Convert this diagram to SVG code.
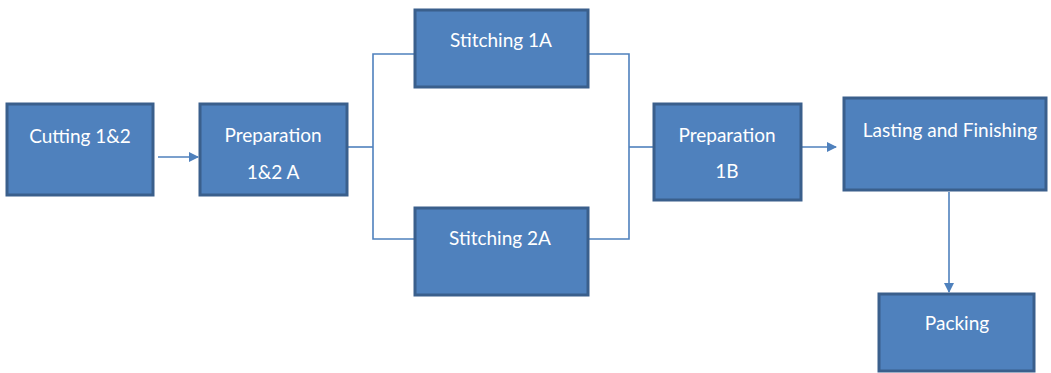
<svg xmlns="http://www.w3.org/2000/svg" width="1051" height="373" viewBox="0 0 1051 373">
<defs>
<style>
.box{fill:#4F81BD;stroke:#3A5F8C;stroke-width:3}
.lbl{fill:#FFFFFF;font-family:Lato,"Open Sans",sans-serif;font-size:19px;text-anchor:middle}
.con{fill:none;stroke:#4F81BD;stroke-width:1.6}
</style>
<marker id="arr" viewBox="0 0 10 10" refX="9" refY="5" markerWidth="10" markerHeight="10" markerUnits="userSpaceOnUse" orient="auto">
<path d="M0,0 L10,5 L0,10 Z" fill="#4F81BD"/>
</marker>
</defs>
<rect width="1051" height="373" fill="#FFFFFF"/>
<g id="connectors">
<line class="con" x1="158" y1="157" x2="198" y2="157" marker-end="url(#arr)"/>
<polyline class="con" points="347,147 373,147"/>
<polyline class="con" points="414,54 373,54 373,239 414,239"/>
<polyline class="con" points="588,54 629,54 629,239 588,239"/>
<polyline class="con" points="629,147 653,147"/>
<line class="con" x1="801" y1="147" x2="836" y2="147" marker-end="url(#arr)"/>
<line class="con" x1="949" y1="192" x2="949" y2="292" marker-end="url(#arr)"/>
</g>
<g id="cutting">
<rect class="box" x="7" y="104" width="146" height="91"/>
<text class="lbl" x="80" y="143">Cutting 1&amp;2</text>
</g>
<g id="prep12a">
<rect class="box" x="200" y="104" width="147" height="91"/>
<text class="lbl" x="273" y="142">Preparation</text>
<text class="lbl" x="273" y="179">1&amp;2 A</text>
</g>
<g id="stitch1a">
<rect class="box" x="415" y="10" width="173" height="77"/>
<text class="lbl" x="501" y="47">Stitching 1A</text>
</g>
<g id="stitch2a">
<rect class="box" x="415" y="208" width="173" height="87"/>
<text class="lbl" x="500" y="245">Stitching 2A</text>
</g>
<g id="prep1b">
<rect class="box" x="654" y="104" width="147" height="96"/>
<text class="lbl" x="727" y="142">Preparation</text>
<text class="lbl" x="727" y="178">1B</text>
</g>
<g id="lasting">
<rect class="box" x="844" y="98" width="202" height="92"/>
<text class="lbl" x="950" y="137">Lasting and Finishing</text>
</g>
<g id="packing">
<rect class="box" x="879" y="294" width="155" height="77"/>
<text class="lbl" x="957" y="330">Packing</text>
</g>
</svg>
